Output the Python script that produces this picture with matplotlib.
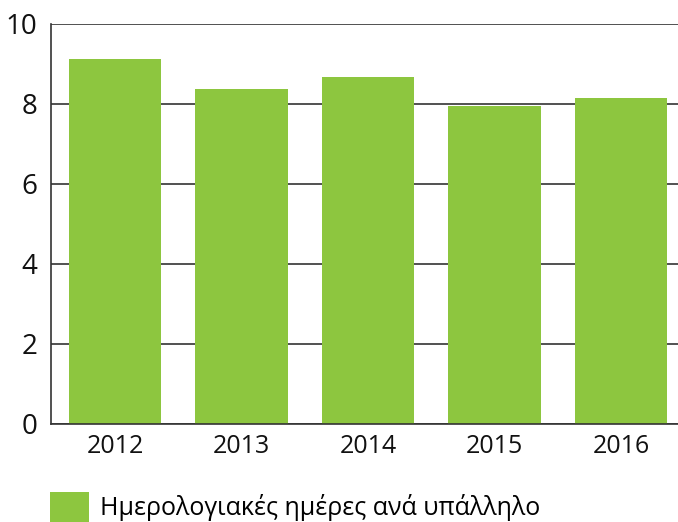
import numpy as np
import matplotlib
matplotlib.use("Agg")
import matplotlib.pyplot as plt
from matplotlib.patches import Patch

plt.rcParams['font.family'] = ['Open Sans', 'DejaVu Sans']

years = ['2012', '2013', '2014', '2015', '2016']
days_per_employee = [9.12, 8.37, 8.67, 7.95, 8.15]
legend_label = 'Ημερολογιακές ημέρες ανά υπάλληλο'

bar_color = '#8dc63f'
line_color = '#333333'

fig = plt.figure(figsize=(6.78, 5.22), dpi=100)
ax = fig.add_axes([51 / 678, 98 / 522, 627 / 678, 400 / 522])

x = np.arange(len(years))
ax.bar(x, days_per_employee, width=0.73, color=bar_color, zorder=2)

ax.set_xlim(-0.506, 4.45)
ax.set_ylim(0, 10)
ax.set_yticks([0, 2, 4, 6, 8, 10])
ax.set_xticks(x)
ax.set_xticklabels(years)

# horizontal gridlines behind the bars
ax.yaxis.grid(True, color=line_color, linewidth=1.2)
ax.set_axisbelow(True)

for side in ['top', 'right']:
    ax.spines[side].set_visible(False)
for side in ['left', 'bottom']:
    ax.spines[side].set_color(line_color)
    ax.spines[side].set_linewidth(1.2)

ax.tick_params(axis='y', length=0, pad=10, labelsize=20, colors='#111111')
ax.tick_params(axis='x', length=0, pad=7, labelsize=18, colors='#111111')

handle = Patch(facecolor=bar_color, edgecolor='none')
fig.legend([handle], [legend_label], loc='lower left',
           bbox_to_anchor=(50 / 678, 0.5 / 522), frameon=False,
           fontsize=18, handlelength=1.56, handleheight=1.45,
           handletextpad=0.42, borderpad=0, borderaxespad=0)

fig.savefig('out.png', dpi=100)
